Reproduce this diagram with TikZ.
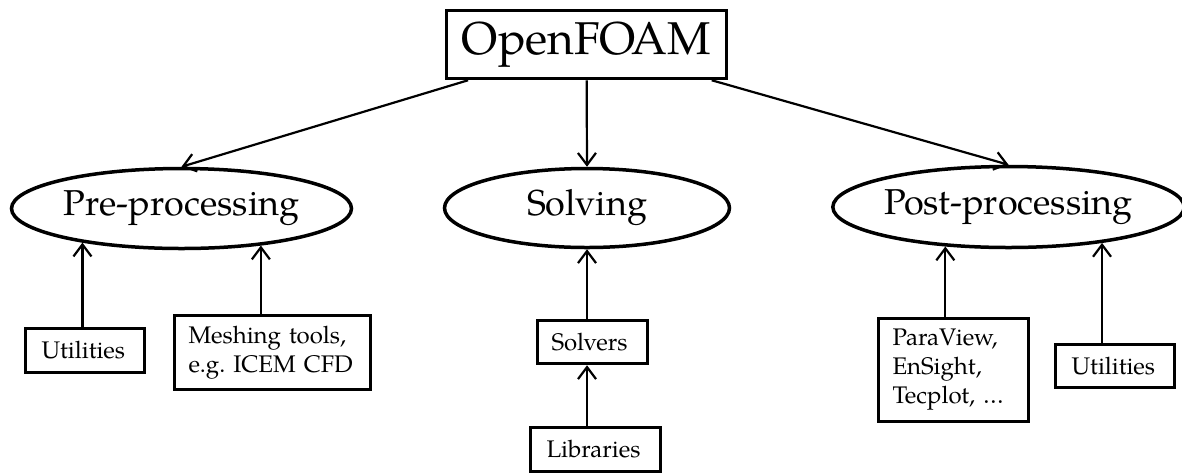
\documentclass[tikz,border=0pt]{standalone}
\usepackage{fontspec}
\setmainfont{TeX Gyre Pagella}
\usetikzlibrary{shapes.geometric,arrows.meta}
\begin{document}
\begin{tikzpicture}[x=1pt,y=-1pt,
  conn/.style={line width=2.2pt,-{Straight Barb[length=12pt,width=18pt,line width=2.2pt]}},
  topbox/.style={draw,line width=3.5pt,rectangle,minimum width=280pt,minimum height=68pt,inner sep=0pt,font=\fontsize{46}{50}\selectfont},
  phase/.style={draw,line width=3.5pt,ellipse,inner sep=0pt,font=\fontsize{36}{40}\selectfont},
  leaf/.style={draw,line width=3.5pt,rectangle,inner xsep=13pt,inner ysep=0pt,align=left,font=\fontsize{24}{29}\selectfont}]
\useasboundingbox (0,0) rectangle (1182,475);
\node[topbox] (foam) at (586.5,44.5) {OpenFOAM};
\node[phase,minimum width=340pt,minimum height=80pt] (pre) at (181.5,208.5) {Pre-processing};
\node[phase,minimum width=285pt,minimum height=79pt] (solv) at (587,208) {Solving};
\node[phase,minimum width=340pt,minimum height=81pt] (post) at (1008.5,207) {Post-processing};
\node[leaf,text width=93pt,minimum height=44pt] (utilL) at (85,350.5) {\hspace*{3pt}Utilities};
\node[leaf,text width=170pt,minimum height=74pt] (mesh) at (272.5,352.5) {\hspace*{1pt}Meshing tools,\\\hspace*{1pt}e.g.\ ICEM CFD};
\node[leaf,text width=84pt,minimum height=43pt] (solvers) at (592.5,342) {\hspace*{1pt}Solvers};
\node[leaf,text width=104pt,minimum height=44pt] (libs) at (595.5,449.5) {\hspace*{3pt}Libraries};
\node[leaf,text width=124pt,minimum height=103pt] (para) at (953.5,370) {\hspace*{1pt}ParaView,\\\hspace*{1pt}EnSight,\\\hspace*{1pt}Tecplot, …};
\node[leaf,text width=93pt,minimum height=43pt] (utilR) at (1115,366) {\hspace*{3pt}Utilities};
\draw[conn] (foam) -- (pre.north);
\draw[conn] (foam) -- (solv.north);
\draw[conn] (foam) -- (post.north);
\draw[conn] (utilL.north -| pre.-161) -- (pre.-161);
\draw[conn] (mesh.north -| pre.-25) -- (pre.-25);
\draw[conn] (solvers.north -| solv.south) -- (solv.south);
\draw[conn] (libs.north -| solv.south) -- (solvers.south -| solv.south);
\draw[conn] (para.north -| post.-148) -- (post.-148);
\draw[conn] (utilR.north -| post.-21) -- (post.-21);
\end{tikzpicture}
\end{document}
